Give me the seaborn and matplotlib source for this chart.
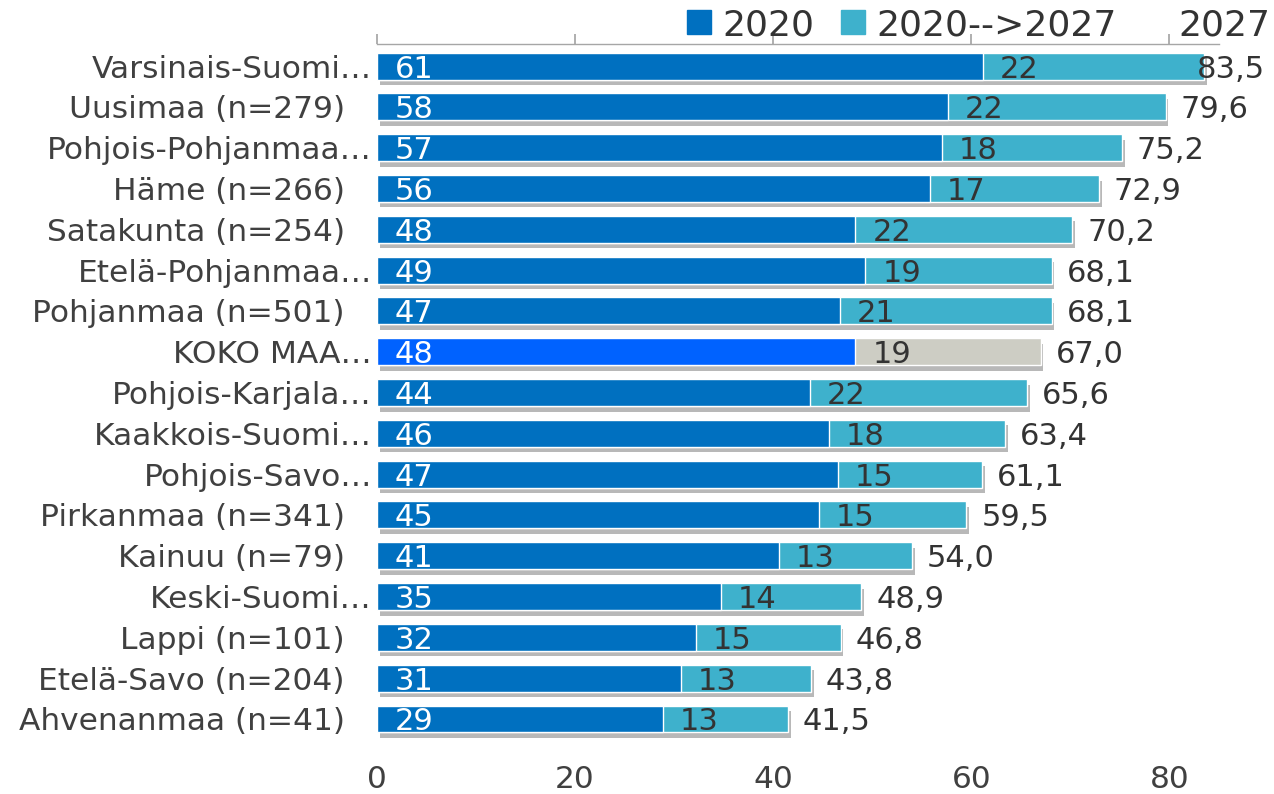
import matplotlib
matplotlib.use("Agg")
import matplotlib.pyplot as plt
import matplotlib.patheffects as pe
import matplotlib.transforms as mtransforms
from matplotlib.lines import Line2D
import seaborn as sns
import pandas as pd

regions = ["Varsinais-Suomi…", "Uusimaa (n=279)", "Pohjois-Pohjanmaa…", "Häme (n=266)",
           "Satakunta (n=254)", "Etelä-Pohjanmaa…", "Pohjanmaa (n=501)", "KOKO MAA…",
           "Pohjois-Karjala…", "Kaakkois-Suomi…", "Pohjois-Savo…", "Pirkanmaa (n=341)",
           "Kainuu (n=79)", "Keski-Suomi…", "Lappi (n=101)", "Etelä-Savo (n=204)",
           "Ahvenanmaa (n=41)"]
value_2020 = [61.2, 57.6, 57.0, 55.8, 48.3, 49.3, 46.7, 48.3, 43.7, 45.6, 46.55, 44.6,
              40.6, 34.7, 32.2, 30.7, 28.9]
value_2027 = [83.5, 79.6, 75.2, 72.9, 70.2, 68.1, 68.1, 67.0, 65.6, 63.4, 61.1, 59.5,
              54.0, 48.9, 46.8, 43.8, 41.5]
xticks = [0, 20, 40, 60, 80]

DARK = "#0070C0"
LIGHT = "#3EB1CC"
TOTAL_DARK = "#0062FF"
TOTAL_LIGHT = "#CDCDC4"
TXT = "#404040"

df = pd.DataFrame({"region": regions, "v2020": value_2020, "v2027": value_2027})
df["delta"] = df["v2027"] - df["v2020"]

light_cols = [TOTAL_LIGHT if r.startswith("KOKO") else LIGHT for r in regions]
dark_cols = [TOTAL_DARK if r.startswith("KOKO") else DARK for r in regions]

sns.set_theme(style="white")
plt.rcParams["font.family"] = ["DejaVu Sans"]

fig = plt.figure(figsize=(12.74, 7.94), dpi=100)
ax = fig.add_axes([377 / 1274, 1 - 750 / 794, 842 / 1274, (750 - 44) / 794])

sns.barplot(data=df, x="v2027", y="region", hue="region", palette=light_cols,
            legend=False, orient="h", width=0.66, ax=ax, saturation=1)
n_light = len(ax.patches)
for p in ax.patches[:n_light]:
    p.set_path_effects([pe.SimplePatchShadow(offset=(2, -4), shadow_rgbFace="#000000", alpha=0.28),
                        pe.Normal()])
sns.barplot(data=df, x="v2020", y="region", hue="region", palette=dark_cols,
            legend=False, orient="h", width=0.66, ax=ax, saturation=1)

FS = 22
for i, row in df.iterrows():
    ax.text(1.8, i, f"{row['v2020']:.0f}", color="white", fontsize=FS,
            ha="left", va="center_baseline")
    ax.text(row["v2020"] + 1.7, i, f"{row['delta']:.0f}", color="#333333", fontsize=FS,
            ha="left", va="center_baseline")
    ax.text(min(row["v2027"] + 1.5, 82.8), i, f"{row['v2027']:.1f}".replace(".", ","),
            color="#333333", fontsize=FS, ha="left", va="center_baseline", clip_on=False)

# category labels (truncated labels reach closer to the axis)
ylab_trans = mtransforms.blended_transform_factory(ax.transAxes, ax.transData)
for i, r in enumerate(regions):
    shift = -5 if r.endswith("…") else -32
    t = ylab_trans + mtransforms.ScaledTranslation(shift / 100, 0, fig.dpi_scale_trans)
    ax.text(0, i, r, transform=t, ha="right", va="center_baseline", fontsize=22.5, color=TXT)

ax.set_xlim(0, 85)
ax.set_ylim(16.76, -0.54)
ax.set_xticks(xticks)
ax.set_yticks([])
ax.set_xlabel("")
ax.set_ylabel("")
ax.tick_params(axis="x", which="both", bottom=False, top=True, labelbottom=True,
               labeltop=False, direction="out", length=7, color="#A6A6A6",
               labelsize=22.5, labelcolor=TXT, pad=4)
for s in ["left", "right", "bottom"]:
    ax.spines[s].set_visible(False)
ax.spines["top"].set_color("#A6A6A6")
ax.spines["top"].set_linewidth(1)

handles = [Line2D([], [], marker="s", color="none", markerfacecolor=DARK, markeredgecolor=DARK, markersize=17),
           Line2D([], [], marker="s", color="none", markerfacecolor=LIGHT, markeredgecolor=LIGHT, markersize=17),
           Line2D([], [], marker="s", color="none", markerfacecolor="none", markeredgecolor="none", markersize=17)]
leg = fig.legend(handles, ["2020", "2020-->2027", "2027"], loc="center right",
                 bbox_to_anchor=(1270 / 1274, 1 - 25 / 794), ncol=3, frameon=False,
                 fontsize=26, handlelength=0.7, handletextpad=0.3, columnspacing=0.7,
                 borderaxespad=0, borderpad=0)
for t in leg.get_texts():
    t.set_color("#333333")

fig.savefig("out.png", dpi=100)
